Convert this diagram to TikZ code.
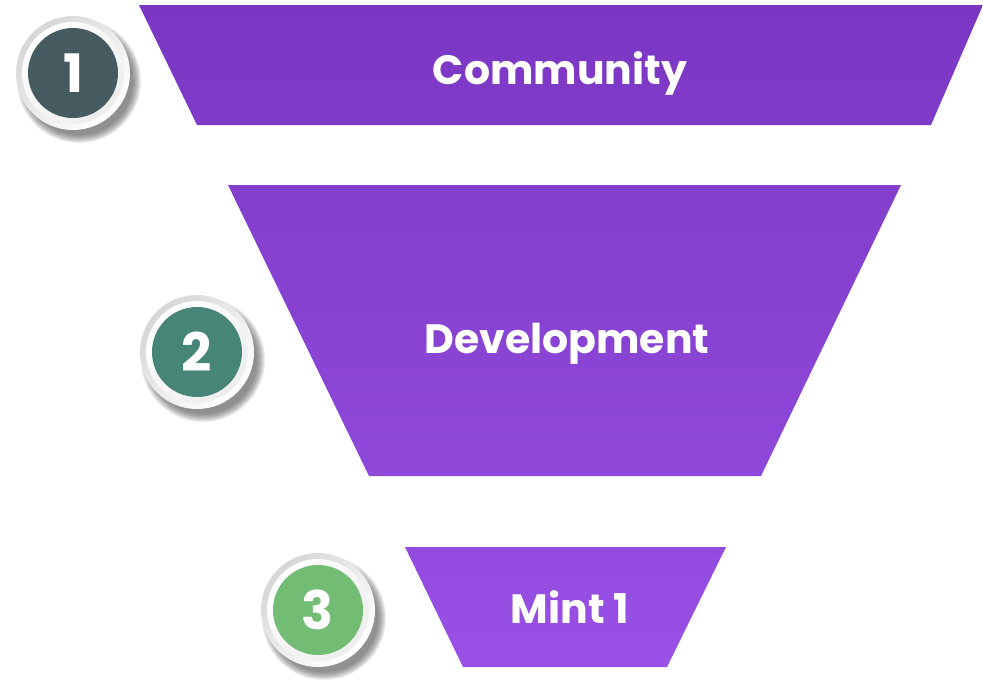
\documentclass[tikz,border=0pt]{standalone}
\usepackage{fontspec}
\newfontfamily\labelfont{Poppins}
\definecolor{bandA}{HTML}{7A37C3}
\definecolor{bandB}{HTML}{803BC9}
\definecolor{bandC}{HTML}{833ECC}
\definecolor{bandD}{HTML}{8F48DA}
\definecolor{bandE}{HTML}{934BDF}
\definecolor{bandF}{HTML}{9A50E6}
\definecolor{slate}{HTML}{465B5F}
\definecolor{teal}{HTML}{478576}
\definecolor{leaf}{HTML}{72BC73}
\begin{document}
\begin{tikzpicture}[x=1pt,y=-1pt,
  bandtext/.style={text=white, inner sep=0pt, anchor=base,
    font=\labelfont\bfseries\fontsize{41}{45}\selectfont},
  numtext/.style={text=white, inner sep=0pt, anchor=center,
    font=\labelfont\bfseries\fontsize{53}{57}\selectfont},
  ringouter/.style={top color=black!16, bottom color=white, shading angle=45},
  ringinner/.style={top color=white, bottom color=black!7, shading angle=45}]
\useasboundingbox (0,0) rectangle (983,680);

% funnel bands
\shade[top color=bandA, bottom color=bandB] (139,5) -- (983,5) -- (931,125) -- (197,125) -- cycle;
\shade[top color=bandC, bottom color=bandD] (228,185) -- (901,185) -- (761,476) -- (369,476) -- cycle;
\shade[top color=bandE, bottom color=bandF] (405,547) -- (726,547) -- (667,667) -- (463,667) -- cycle;

\node[bandtext] (community) at (560,84) {Community};
\node[bandtext] (development) at (567,353) {Development};
\node[bandtext] (mint) at (570,623) {Mint 1};

% numbered badges
\foreach \cx/\cy/\col/\num/\nm in {73/73/slate/1/one, 197/352/teal/2/two, 318/610/leaf/3/three} {
  \foreach \r in {62,61,...,54}
    \fill[black!70, opacity=0.1] (\cx+6,\cy+8) circle[radius=\r];
  \shade[ringouter] (\cx,\cy) circle[radius=57];
  \shade[ringinner] (\cx,\cy) circle[radius=51];
  \fill[\col] (\cx,\cy) circle[radius=45];
  \node[numtext] (badge-\nm) at (\cx,\cy) {\num};
}
\end{tikzpicture}
\end{document}
